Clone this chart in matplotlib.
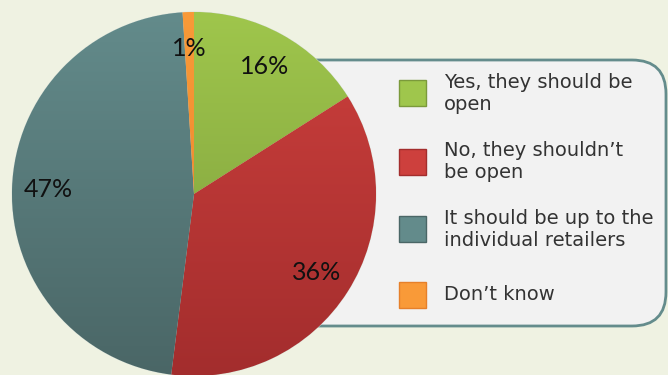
import numpy as np
import matplotlib
matplotlib.use('Agg')
import matplotlib.pyplot as plt
from matplotlib.patches import FancyBboxPatch, Rectangle

# data
labels = ['Yes, they should be\nopen', 'No, they shouldn\u2019t\nbe open',
          'It should be up to the\nindividual retailers', 'Don\u2019t know']
shares = [16, 36, 47, 1]
top_cols = ['#9fc64c', '#cd403d', '#638b8b', '#f99a38']
bot_cols = ['#7b9a3b', '#a32d2d', '#4a6666', '#e6802a']

W, H = 668, 375
fig = plt.figure(figsize=(W / 100.0, H / 100.0), dpi=100)
fig.patch.set_facecolor('#eff2e2')
ax = fig.add_axes([0, 0, 1, 1])
ax.set_xlim(0, W)
ax.set_ylim(0, H)
ax.axis('off')

# legend box, sitting behind the pie
box = FancyBboxPatch((260, 49), 406, 266,
                     boxstyle='round,pad=0,rounding_size=34',
                     facecolor='#f2f2f2', edgecolor='#648c8c', linewidth=2,
                     zorder=1)
ax.add_patch(box)

cx, cy, r = 194, H - 194, 182
wedges, texts, autotexts = ax.pie(
    shares, startangle=90, counterclock=False, center=(cx, cy), radius=r,
    colors=top_cols, autopct='%1.0f%%', pctdistance=0.8,
    wedgeprops=dict(edgecolor='#d8e0d8', linewidth=0.6),
    textprops=dict(fontsize=18, family='Lato', color='#111111'))
ax.set_xlim(0, W)
ax.set_ylim(0, H)
ax.set_aspect('equal')

# vertical gradient inside each wedge
grad = np.linspace(0, 1, 256).reshape(-1, 1)
for w, c0, c1 in zip(wedges, top_cols, bot_cols):
    cmap = matplotlib.colors.LinearSegmentedColormap.from_list('g', [c1, c0])
    im = ax.imshow(grad, cmap=cmap, origin='lower', aspect='auto',
                   extent=(cx - r, cx + r, cy - r, cy + r), zorder=2.5)
    im.set_clip_path(w)
    w.set_zorder(2)
for t in autotexts:
    t.set_zorder(4)

# legend entries
ys = [H - 93, H - 162, H - 229, H - 295]
for lab, y, c0, c1 in zip(labels, ys, top_cols, bot_cols):
    sq = Rectangle((399, y - 13), 27, 26, facecolor=c0, edgecolor=c1,
                   linewidth=1, zorder=3)
    ax.add_patch(sq)
    ax.text(444, y, lab, fontsize=14, family='DejaVu Sans', color='#333333',
            va='center', ha='left', linespacing=1.2, zorder=3)

fig.savefig('out.png', dpi=100, facecolor=fig.get_facecolor())
